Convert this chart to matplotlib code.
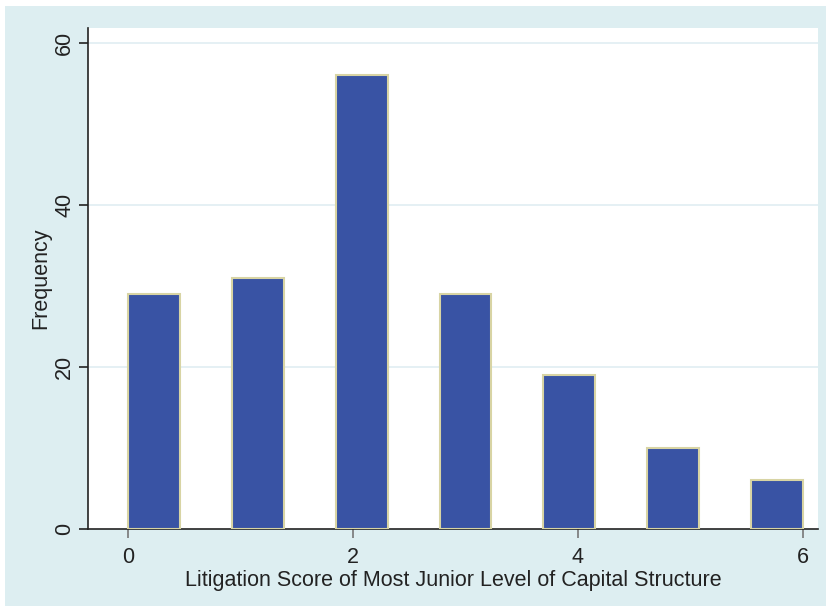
import matplotlib
matplotlib.use("Agg")
import matplotlib.pyplot as plt
from matplotlib.patches import Rectangle

# Litigation score categories and their frequencies
scores = [0, 1, 2, 3, 4, 5, 6]
freq = [29, 31, 56, 29, 19, 10, 6]
xticks = [0, 2, 4, 6]
yticks = [0, 20, 40, 60]

plt.rcParams["font.family"] = ["Liberation Sans", "DejaVu Sans"]

W, H = 831, 612
fig = plt.figure(figsize=(W / 100, H / 100), dpi=100)
fig.patch.set_facecolor("white")
fig.add_artist(Rectangle((5 / W, 6 / H), 821 / W, 600 / H,
                         transform=fig.transFigure, facecolor="#ddeef1",
                         edgecolor="none", zorder=-10))

ax = fig.add_axes([88 / W, (H - 529) / H, (818 - 88) / W, (529 - 28) / H])
ax.set_facecolor("white")

# Stata-style bars: bins of width 6/6.5 with a 50% gap, covering 0..6
step = 6 / 6.5
left = [s * step for s in scores]
ax.bar(left, freq, width=step / 2, align="edge", color="#3953a4",
       edgecolor="#d8d4a4", linewidth=1.5, zorder=3)

ax.set_xlim(-40 / 112.5, 690 / 112.5)
ax.set_ylim(0, 501 / 8.1)
ax.set_xticks(xticks)
ax.set_yticks(yticks)
ax.set_yticklabels([str(v) for v in yticks], rotation=90, va="center")
for y in yticks[1:]:
    ax.axhline(y, color="#e0eef2", linewidth=1.2, zorder=1)

for side in ("top", "right"):
    ax.spines[side].set_visible(False)
for side in ("left", "bottom"):
    ax.spines[side].set_color("#222222")
    ax.spines[side].set_linewidth(1.2)

ax.tick_params(axis="both", labelsize=15.5, labelcolor="#222222", length=6.3, width=1.2)
ax.tick_params(axis="x", color="#777777", pad=7)
ax.tick_params(axis="y", color="#222222", pad=3)

ax.set_xlabel("Litigation Score of Most Junior Level of Capital Structure",
              fontsize=15.5, color="#222222", labelpad=1)
ax.set_ylabel("Frequency", fontsize=15.5, color="#222222", labelpad=2)

fig.savefig("out.png", dpi=100, facecolor=fig.get_facecolor())
